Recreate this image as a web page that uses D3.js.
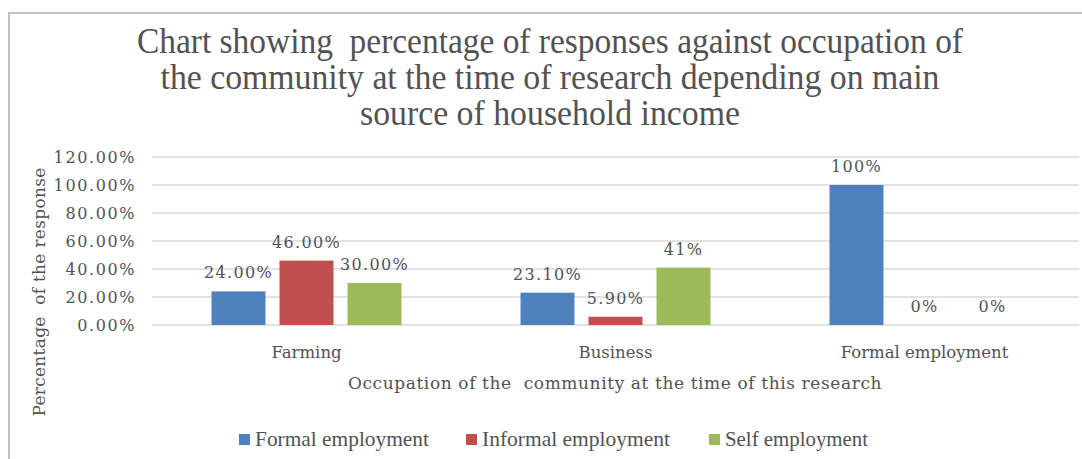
<!DOCTYPE html>
<html>
<head>
<meta charset="utf-8">
<script src="https://cdn.jsdelivr.net/npm/d3@7"></script>
<style>
  html, body { margin: 0; padding: 0; background: #fff; }
  svg { display: block; }
  text { white-space: pre; }
</style>
</head>
<body>
<svg id="chart" width="1082" height="459"></svg>
<script>
// Occupation categories along the x axis
const categories = ["Farming", "Business", "Formal employment"];
// Series: main source of household income
const seriesNames = ["Formal employment", "Informal employment", "Self employment"];
// Percentages per category, one array per series
const formalValues   = [24.0, 23.1, 100];
const informalValues = [46.0, 5.9, 0];
const selfValues     = [30.0, 41, 0];
// Data labels as printed on the bars
const formalLabels   = ["24.00%", "23.10%", "100%"];
const informalLabels = ["46.00%", "5.90%", "0%"];
const selfLabels     = ["30.00%", "41%", "0%"];
// Y axis ticks
const yTicks = [0, 20, 40, 60, 80, 100, 120];
const titleLines = [
  "Chart showing  percentage of responses against occupation of",
  "the community at the time of research depending on main",
  "source of household income"
];

const colors = ["#4f81bd", "#c0504d", "#9bbb59"];
const textColor = "#525252";
const numFont = "'DejaVu Serif', serif";

const series = [
  { name: seriesNames[0], values: formalValues, labels: formalLabels },
  { name: seriesNames[1], values: informalValues, labels: informalLabels },
  { name: seriesNames[2], values: selfValues, labels: selfLabels }
];

const svg = d3.select("#chart");

// Chart frame (right edge runs off the page)
svg.append("path")
  .attr("d", "M9,460 L9,13 L1090,13")
  .attr("fill", "none")
  .attr("stroke", "#c0c0c0")
  .attr("stroke-width", 2);

// Title, set in a condensed serif
const titleWidths = [826, 779, 380];
svg.append("g").selectAll("text")
  .data(titleLines)
  .join("text")
  .attr("x", 550)
  .attr("y", (d, i) => 53 + i * 36)
  .attr("text-anchor", "middle")
  .attr("font-family", "'Liberation Serif', serif")
  .attr("font-size", 35)
  .attr("fill", textColor)
  .attr("textLength", (d, i) => titleWidths[i])
  .attr("lengthAdjust", "spacingAndGlyphs")
  .text(d => d);

const plot = { left: 152, right: 1079, top: 157, bottom: 325 };

const y = d3.scaleLinear().domain([0, 120]).range([plot.bottom, plot.top]);
const x0 = d3.scaleBand().domain(categories).range([plot.left, plot.right]).padding(0);
const x1 = d3.scaleBand().domain(seriesNames)
  .range([(x0.bandwidth() - 190) / 2, (x0.bandwidth() + 190) / 2])
  .paddingInner(0.206).paddingOuter(0);

// Gridlines
svg.append("g").selectAll("line")
  .data(yTicks)
  .join("line")
  .attr("x1", plot.left).attr("x2", plot.right)
  .attr("y1", d => y(d)).attr("y2", d => y(d))
  .attr("stroke", "#d9d9d9")
  .attr("stroke-width", 1.5);

// Y axis labels
const yAxis = d3.axisLeft(y).tickValues(yTicks)
  .tickFormat(d => d3.format(".2f")(d) + "%")
  .tickSize(0).tickPadding(16);
const yg = svg.append("g").attr("transform", `translate(${plot.left},0)`).call(yAxis);
yg.select(".domain").remove();
yg.selectAll("text")
  .attr("font-family", numFont)
  .attr("font-size", 16)
  .attr("letter-spacing", "1.6px")
  .attr("fill", textColor);

// X axis labels
const xAxis = d3.axisBottom(x0).tickSize(0).tickPadding(21);
const xg = svg.append("g").attr("transform", `translate(0,${plot.bottom})`).call(xAxis);
xg.select(".domain").remove();
xg.selectAll("text")
  .attr("font-family", numFont)
  .attr("font-size", 16.5)
  .attr("fill", textColor);

// Bars
const groups = svg.append("g").selectAll("g")
  .data(series)
  .join("g")
  .attr("fill", (d, i) => colors[i]);

groups.selectAll("rect")
  .data(s => s.values.map((v, j) => ({ s: s.name, cat: categories[j], v })))
  .join("rect")
  .attr("x", d => x0(d.cat) + x1(d.s))
  .attr("y", d => y(d.v))
  .attr("width", x1.bandwidth())
  .attr("height", d => y(0) - y(d.v));

// Value labels above bars
svg.append("g").selectAll("g")
  .data(series)
  .join("g")
  .selectAll("text")
  .data(s => s.values.map((v, j) => ({ s: s.name, cat: categories[j], v, label: s.labels[j] })))
  .join("text")
  .attr("x", d => x0(d.cat) + x1(d.s) + x1.bandwidth() / 2)
  .attr("y", d => y(d.v) - 13)
  .attr("text-anchor", "middle")
  .attr("font-family", numFont)
  .attr("font-size", 16)
  .attr("letter-spacing", "1.3px")
  .attr("fill", textColor)
  .text(d => d.label);

// Axis titles
svg.append("text")
  .attr("x", 615)
  .attr("y", 389)
  .attr("text-anchor", "middle")
  .attr("font-family", numFont)
  .attr("font-size", 17)
  .attr("letter-spacing", "0.6px")
  .attr("fill", textColor)
  .text("Occupation of the  community at the time of this research");

svg.append("text")
  .attr("transform", "translate(45,292) rotate(-90)")
  .attr("text-anchor", "middle")
  .attr("font-family", numFont)
  .attr("font-size", 17)
  .attr("letter-spacing", "0.3px")
  .attr("fill", textColor)
  .text("Percentage  of the response");

// Legend
const legendX = [239, 466, 709];
const legendTextW = [174, 188, 143];
const legend = svg.append("g").selectAll("g")
  .data(seriesNames)
  .join("g")
  .attr("transform", (d, i) => `translate(${legendX[i]},440)`);
legend.append("rect")
  .attr("x", 0).attr("y", -6)
  .attr("width", 11).attr("height", 11)
  .attr("fill", (d, i) => colors[i]);
legend.append("text")
  .attr("x", 16).attr("y", 6)
  .attr("font-family", "'Liberation Serif', serif")
  .attr("font-size", 21)
  .attr("fill", textColor)
  .attr("textLength", (d, i) => legendTextW[i])
  .attr("lengthAdjust", "spacingAndGlyphs")
  .text(d => d);
</script>
</body>
</html>
